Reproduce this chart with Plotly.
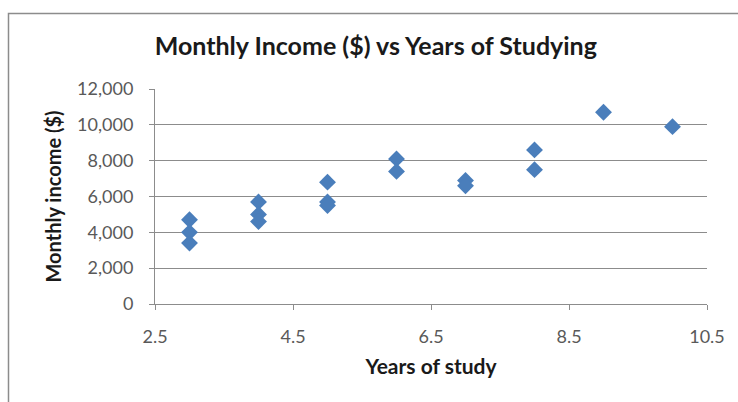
import plotly.graph_objects as go

# Years of study and monthly income ($) for each person surveyed
years = [3, 3, 3, 4, 4, 4, 5, 5, 5, 6, 6, 7, 7, 8, 8, 9, 10]
income = [4700, 4000, 3400, 5700, 5000, 4600, 6800, 5700, 5500,
          8100, 7400, 6900, 6600, 8600, 7500, 10700, 9900]

x_ticks = [2.5, 4.5, 6.5, 8.5, 10.5]
y_ticks = [0, 2000, 4000, 6000, 8000, 10000, 12000]

FONT = "Lato"
TICK_COLOR = "#595959"
LINE_COLOR = "#8c8c8c"

fig = go.Figure(
    go.Scatter(
        x=years,
        y=income,
        mode="markers",
        marker=dict(symbol="diamond", size=13, color="#4a7ebb",
                    line=dict(width=0)),
        hoverinfo="x+y",
    )
)

fig.update_layout(
    width=738,
    height=402,
    margin=dict(l=155, r=31, t=89, b=98),
    paper_bgcolor="white",
    plot_bgcolor="white",
    showlegend=False,
    title=dict(
        text="<b>Monthly Income ($) vs Years of Studying</b>",
        x=0.40, xanchor="center", xref="paper",
        y=0.885, yanchor="middle",
        font=dict(family=FONT, size=25, color="#1a1a1a"),
    ),
    xaxis=dict(
        range=[2.5, 10.5],
        tickvals=x_ticks,
        ticktext=[f"{v:g}" for v in x_ticks],
        showgrid=False,
        zeroline=False,
        showline=True, linecolor=LINE_COLOR, linewidth=1,
        ticks="outside", ticklen=5, tickcolor=LINE_COLOR,
        ticklabelstandoff=11,
        tickfont=dict(family=FONT, size=18, color=TICK_COLOR),
        title=dict(text="<b>Years of study</b>", standoff=13,
                   font=dict(family=FONT, size=21, color="#1a1a1a")),
    ),
    yaxis=dict(
        range=[0, 12000],
        tickvals=y_ticks,
        ticktext=[f"{v:,}" for v in y_ticks],
        showgrid=True, gridcolor=LINE_COLOR, gridwidth=1,
        zeroline=False,
        showline=True, linecolor=LINE_COLOR, linewidth=1,
        ticks="outside", ticklen=5, tickcolor=LINE_COLOR,
        ticklabelstandoff=12,
        tickfont=dict(family=FONT, size=18, color=TICK_COLOR),
        title=dict(text="<b>Monthly income ($)</b>", standoff=10,
                   font=dict(family=FONT, size=20, color="#1a1a1a")),
    ),
    shapes=[
        # chart area frame
        dict(type="rect", xref="paper", yref="paper",
             x0=-0.2654, x1=1.07, y0=-0.48, y1=1.3515,
             line=dict(color="#8c8c8c", width=1.5), fillcolor="rgba(0,0,0,0)",
             layer="below"),
    ],
)

fig.write_html("out.html")
